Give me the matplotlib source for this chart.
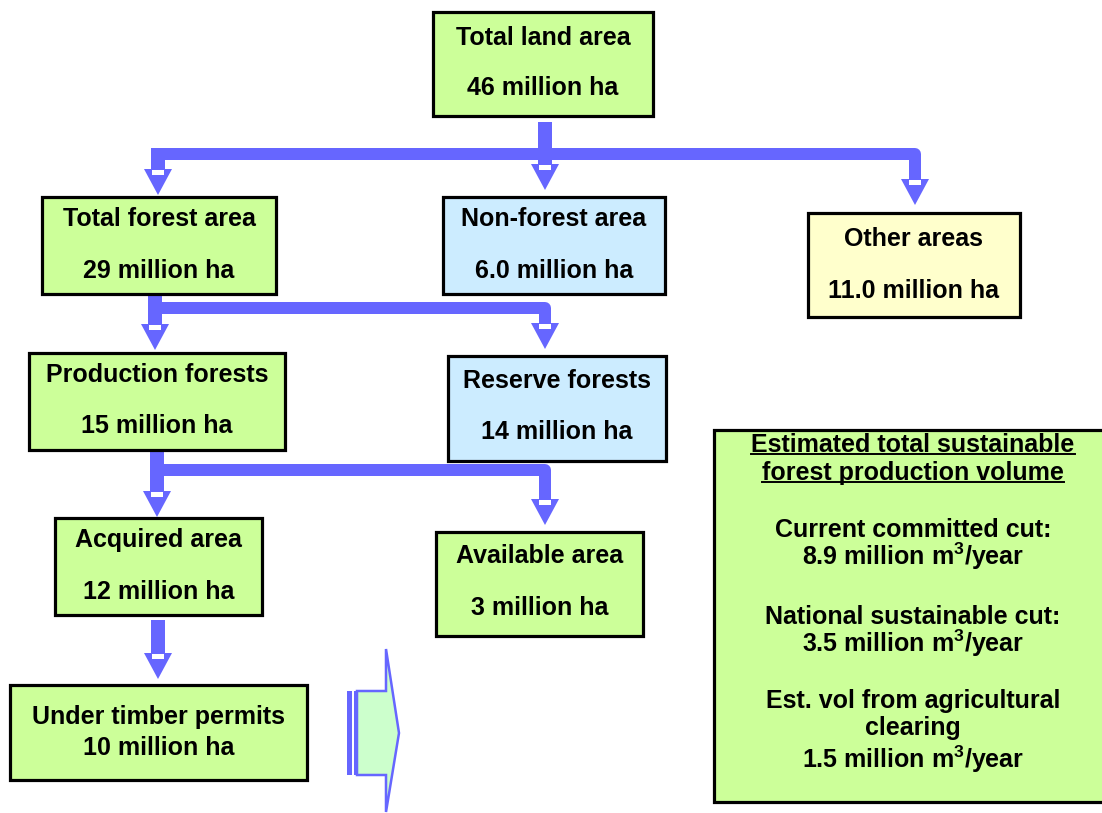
import matplotlib.pyplot as plt
from matplotlib.patches import Rectangle, Polygon
from matplotlib.lines import Line2D

plt.rcParams['font.family'] = ['Liberation Sans', 'DejaVu Sans']
plt.rcParams['mathtext.fontset'] = 'custom'
plt.rcParams['mathtext.rm'] = 'Liberation Sans:bold'
plt.rcParams['mathtext.bf'] = 'Liberation Sans:bold'

# box contents
box_titles = ["Total land area", "Total forest area", "Non-forest area", "Other areas",
              "Production forests", "Reserve forests", "Acquired area", "Available area",
              "Under timber permits"]
box_values = ["46", "29", "6.0", "11.0", "15", "14", "12", "3", "10"]
box_kind = ["green", "green", "blue", "yellow", "green", "blue", "green", "green", "green"]

vol_title = ["Estimated total sustainable", "forest production volume"]
vol_labels = ["Current committed cut:", "National sustainable cut:",
              "Est. vol from agricultural\nclearing"]
vol_values = ["8.9", "3.5", "1.5"]

# layout (pixels): x0, y0, x1, y1, baseline 1, baseline 2
box_pos = [
    (433, 12, 653, 116, 45, 95),
    (42, 197, 276, 294, 226, 278),
    (443, 197, 665, 294, 226, 278),
    (808, 213, 1020, 317, 246, 298),
    (29, 353, 285, 450, 382, 433),
    (448, 356, 666, 461, 388, 439),
    (55, 518, 262, 615, 547, 599),
    (436, 532, 643, 636, 563, 615),
    (10, 685, 307, 780, 724, 755),
]
fills = {"green": "#CCFF99", "blue": "#CCECFF", "yellow": "#FFFFCC"}
arrow_c = "#6666FF"
fs = 18

fig = plt.figure(figsize=(11.02, 8.13), dpi=100)
ax = fig.add_axes([0, 0, 1, 1])
ax.set_xlim(0, 1102)
ax.set_ylim(813, 0)
ax.axis('off')


def box(x0, y0, x1, y1, fc):
    ax.add_patch(Rectangle((x0, y0), x1 - x0, y1 - y0, facecolor=fc,
                           edgecolor='black', linewidth=2.3, zorder=3))


def head(x, tip, hl=26, hw=28):
    ax.add_patch(Polygon([(x - hw / 2, tip - hl), (x + hw / 2, tip - hl), (x, tip)],
                         closed=True, facecolor=arrow_c, edgecolor='none', zorder=2))
    ax.add_patch(Rectangle((x - 6, tip - hl + 1), 12, 5, facecolor='white',
                           edgecolor='none', zorder=2))


def shaft(x, y0, y1, w=14):
    ax.add_patch(Rectangle((x - w / 2, y0), w, y1 - y0, facecolor=arrow_c,
                           edgecolor='none', zorder=2))


def branch(xl, xr, yb, tip_l, tip_r, hl=26):
    # left stub and bar, rounded corner on the right
    shaft(xl, yb - 6, tip_l - hl)
    head(xl, tip_l)
    ax.add_line(Line2D([xl - 7, xr, xr], [yb, yb, tip_r - hl], color=arrow_c,
                       linewidth=12 * 0.72, solid_joinstyle='round',
                       solid_capstyle='butt', zorder=2))
    head(xr, tip_r)


# level 1
shaft(545, 122, 164)
head(545, 190)
branch(158, 915, 154, 195, 205)

# level 2
shaft(155, 295, 310)
branch(155, 545, 308, 350, 349)

# level 3
shaft(157, 451, 470)
branch(157, 545, 470, 517, 525)

# level 4
shaft(158, 620, 653)
head(158, 679)

for (x0, y0, x1, y1, b1, b2), t, v, k in zip(box_pos, box_titles, box_values, box_kind):
    box(x0, y0, x1, y1, fills[k])
    xc = (x0 + x1) / 2
    ax.text(xc, b1, t, ha='center', va='baseline', fontsize=fs, fontweight='bold', zorder=4)
    ax.text(xc, b2, v + " million ha", ha='center', va='baseline', fontsize=fs,
            fontweight='bold', zorder=4)

# big right-pointing arrow
ax.add_patch(Polygon([(357, 691), (386, 691), (386, 649), (399, 733), (386, 812),
                      (386, 775), (357, 775)], closed=True, facecolor='#CCFFCC',
                     edgecolor=arrow_c, linewidth=1.8, zorder=2))
ax.add_patch(Rectangle((347, 691), 5, 84, facecolor=arrow_c, edgecolor='none', zorder=3))
ax.add_patch(Rectangle((354, 691), 4, 84, facecolor=arrow_c, edgecolor='none', zorder=3))

# volume box
box(714, 430, 1110, 802, fills["green"])
vx = 913
title_y = [452, 480]
texts = []
for ty, t in zip(title_y, vol_title):
    texts.append(ax.text(vx, ty, t, ha='center', va='baseline', fontsize=fs,
                         fontweight='bold', zorder=4))
label_top = [518, 605, 689]
spacing = [0.95, 0.95, 1.15]
for ly, ls, lab, val in zip(label_top, spacing, vol_labels, vol_values):
    ax.text(vx, ly, lab + "\n" + val + r" million m$^{3}$/year", ha='center',
            va='top', fontsize=fs, fontweight='bold', zorder=4, linespacing=ls)

# underline the title lines
fig.canvas.draw()
r = fig.canvas.get_renderer()
inv = ax.transData.inverted()
for t, ty in zip(texts, title_y):
    bb = t.get_window_extent(r)
    (x0, _), (x1, _) = inv.transform([(bb.x0, bb.y0), (bb.x1, bb.y1)])
    ax.add_line(Line2D([x0, x1], [ty + 2, ty + 2], color='black', linewidth=1.4, zorder=4))

fig.savefig("out.png", dpi=100)
